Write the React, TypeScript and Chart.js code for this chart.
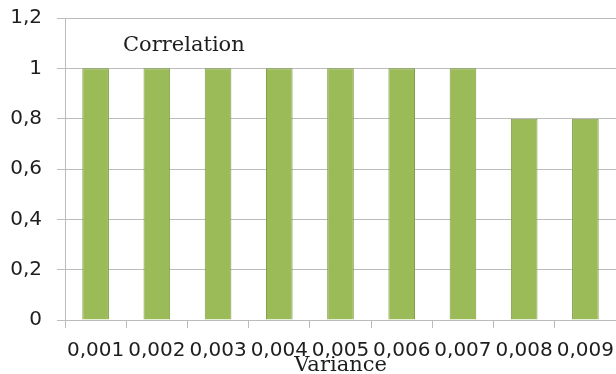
import React, { useEffect, useRef } from "react";
import { Chart, registerables, Plugin } from "chart.js";

Chart.register(...registerables);

// Variance levels on the category axis
const VARIANCE_LABELS: string[] = [
  "0,001", "0,002", "0,003", "0,004", "0,005", "0,006", "0,007", "0,008", "0,009",
];

// Correlation measured at each variance level
const CORRELATION_VALUES: number[] = [1, 1, 1, 1, 1, 1, 1, 0.8, 0.8];

const SERIES_NAME = "Correlation";
const X_TITLE = "Variance";

const Y_MIN = 0;
const Y_MAX = 1.2;
const Y_STEP = 0.2;

const TEXT_COLOR = "#1e1e1e";
const GRID_COLOR = "#bcbcbc";

// Writes the series name inside the top band of the plot area
const seriesCaption: Plugin<"bar"> = {
  id: "seriesCaption",
  afterDraw(chart) {
    const { ctx, chartArea } = chart;
    const label = chart.data.datasets[0]?.label ?? "";
    ctx.save();
    ctx.font = "21px 'DejaVu Serif'";
    ctx.fillStyle = TEXT_COLOR;
    ctx.textAlign = "left";
    ctx.textBaseline = "alphabetic";
    ctx.fillText(label, chartArea.left + 58, chartArea.top + 33);
    ctx.restore();
  },
};

export default function App() {
  const canvasRef = useRef<HTMLCanvasElement | null>(null);

  useEffect(() => {
    const canvas = canvasRef.current;
    if (!canvas) return;

    const chart = new Chart(canvas, {
      type: "bar",
      data: {
        labels: VARIANCE_LABELS,
        datasets: [
          {
            label: SERIES_NAME,
            data: CORRELATION_VALUES,
            backgroundColor: "#9bbb59",
            borderColor: "#7d9c44",
            borderWidth: 1,
            categoryPercentage: 1,
            barPercentage: 0.435,
          },
        ],
      },
      options: {
        responsive: false,
        animation: false,
        layout: { padding: { top: 18, right: 0, bottom: 0, left: 0 } },
        plugins: {
          legend: { display: false },
          title: { display: false },
          tooltip: { enabled: false },
        },
        scales: {
          x: {
            type: "category",
            offset: true,
            border: { display: true, color: GRID_COLOR, width: 1 },
            grid: {
              offset: true,
              drawOnChartArea: false,
              drawTicks: true,
              tickLength: 8,
              color: GRID_COLOR,
            },
            ticks: {
              color: TEXT_COLOR,
              font: { family: "'DejaVu Sans'", size: 20, lineHeight: 1.2 },
              padding: 11,
              maxRotation: 0,
              minRotation: 0,
              autoSkip: false,
            },
            title: {
              display: true,
              text: X_TITLE,
              color: TEXT_COLOR,
              font: { family: "'DejaVu Serif'", size: 21, lineHeight: 1.2 },
              padding: { top: 0, bottom: -4 },
            },
            afterFit(scale) {
              scale.height = 54;
              scale.paddingLeft = 0;
              scale.paddingRight = 0;
            },
          },
          y: {
            min: Y_MIN,
            max: Y_MAX,
            border: { display: true, color: GRID_COLOR, width: 1 },
            grid: {
              color: GRID_COLOR,
              drawTicks: true,
              tickLength: 8,
            },
            ticks: {
              stepSize: Y_STEP,
              color: TEXT_COLOR,
              font: { family: "'DejaVu Sans'", size: 20, lineHeight: 1.2 },
              padding: 15,
              callback: (value) =>
                String(Math.round(Number(value) * 10) / 10).replace(".", ","),
            },
            afterFit(scale) {
              scale.width = 65;
              scale.paddingTop = 0;
              scale.paddingBottom = 0;
            },
          },
        },
      },
      plugins: [seriesCaption],
    });

    return () => chart.destroy();
  }, []);

  return (
    <div style={{ position: "absolute", left: 0, top: 0, width: 616, height: 374, background: "#ffffff" }}>
      <canvas ref={canvasRef} width={616} height={374} style={{ display: "block" }} />
    </div>
  );
}
